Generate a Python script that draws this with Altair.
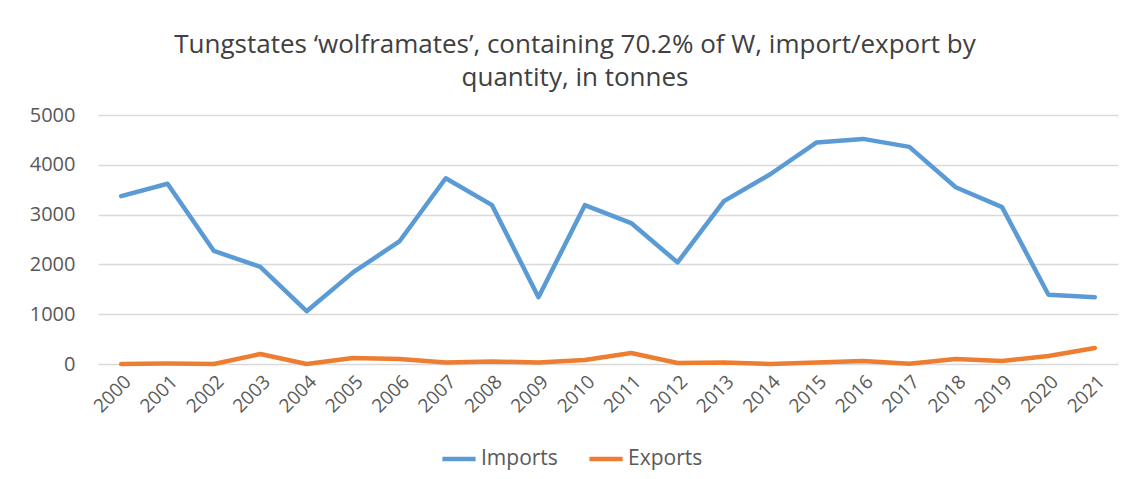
import altair as alt
import pandas as pd

years = [str(y) for y in range(2000, 2022)]
imports = [3370, 3620, 2270, 1950, 1060, 1840, 2460, 3730, 3190, 1340, 3190,
           2830, 2040, 3270, 3810, 4450, 4520, 4360, 3550, 3150, 1390, 1340]
exports = [0, 10, 0, 200, 0, 120, 100, 30, 50, 30, 80,
           220, 20, 30, 0, 30, 60, 5, 100, 60, 160, 320]
series = ["Imports", "Exports"]
colors = ["#5B9BD5", "#ED7D31"]

rows = []
for i, y in enumerate(years):
    rows.append({"Year": y, "Series": "Imports", "Value": imports[i]})
    rows.append({"Year": y, "Series": "Exports", "Value": exports[i]})
df = pd.DataFrame(rows)

FONT = "Open Sans"

chart = alt.Chart(df).mark_line(strokeWidth=4.5, strokeCap="round", strokeJoin="round").encode(
    x=alt.X("Year:N", sort=years, title=None,
            scale=alt.Scale(paddingInner=0, paddingOuter=0.5),
            axis=alt.Axis(labelAngle=-45, labelFontSize=19, labelColor="#595959",
                          labelFont=FONT, ticks=False, domain=False, grid=False,
                          labelPadding=8, labelAlign="right", labelBaseline="top")),
    y=alt.Y("Value:Q", title=None,
            scale=alt.Scale(domain=[0, 5000], nice=False),
            axis=alt.Axis(values=[0, 1000, 2000, 3000, 4000, 5000], format="d",
                          labelFontSize=20,
                          labelColor="#595959", labelFont=FONT, ticks=False,
                          domain=False, gridColor="#D9D9D9", gridWidth=1.5,
                          labelPadding=23)),
    color=alt.Color("Series:N", sort=series,
                    scale=alt.Scale(domain=series, range=colors),
                    legend=alt.Legend(title=None, orient="none", direction="horizontal",
                                      legendX=342, legendY=325, symbolType="stroke",
                                      symbolStrokeWidth=4.5, symbolSize=1100,
                                      labelFontSize=21, labelColor="#595959",
                                      labelFont=FONT, columnPadding=22, labelOffset=3))
).properties(
    width=1020, height=249,
    title=alt.TitleParams(
        ["Tungstates \u2018wolframates\u2019, containing 70.2% of W, import/export by",
         "quantity, in tonnes"],
        anchor="middle", fontSize=26, font=FONT, fontWeight="normal",
        color="#404040", lineHeight=33, offset=14, dx=-33),
    autosize=alt.AutoSizeParams(type="none"),
    padding={"left": 90, "top": 107, "right": 4, "bottom": 107},
).configure_view(stroke=None)

chart.save("out.html", embed_options={"renderer": "svg", "actions": False})
